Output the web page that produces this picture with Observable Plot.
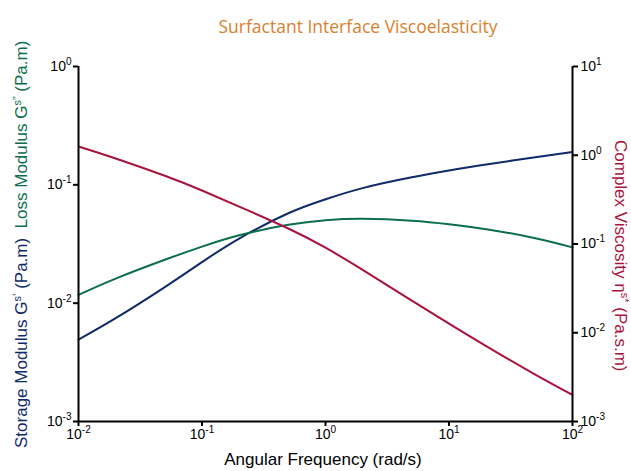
<!DOCTYPE html>
<html>
<head>
<meta charset="utf-8">
<script src="https://cdn.jsdelivr.net/npm/d3@7"></script>
<script src="https://cdn.jsdelivr.net/npm/@observablehq/plot@0.6"></script>
<style>
  html, body { margin: 0; padding: 0; background: #ffffff; }
  #chart { width: 631px; height: 471px; }
</style>
</head>
<body>
<div id="chart"></div>
<script>
// ---- data ----
const frequency = [0.01, 0.02, 0.05, 0.1, 0.2, 0.5, 1, 2, 5, 10, 20, 50, 100];
const storageModulus = [0.00492, 0.00746, 0.01368, 0.02223, 0.03516, 0.0575, 0.0755, 0.0938, 0.1157, 0.1319, 0.1484, 0.171, 0.1892];
const lossModulus = [0.01175, 0.01614, 0.02328, 0.03006, 0.0375, 0.0459, 0.0502, 0.0516, 0.0498, 0.0465, 0.0422, 0.0354, 0.0296];
const complexViscosity = [1.256, 0.92, 0.587, 0.401, 0.264, 0.1496, 0.0908, 0.0511, 0.023, 0.01268, 0.00708, 0.00337, 0.00199];

const xTickExps = [-2, -1, 0, 1, 2];
const leftTickExps = [-3, -2, -1, 0];
const rightTickExps = [-3, -2, -1, 0, 1];

const titleText = "Surfactant Interface Viscoelasticity";
const xLabel = "Angular Frequency (rad/s)";

// ---- colours ----
const BLUE = "#0f2a68";
const GREEN = "#0b6e4c";
const RED = "#a8123c";
const ORANGE = "#d9812f";

// right axis (1e-3 .. 1e1) mapped onto left scale (1e-3 .. 1e0)
const toLeft = v => Math.pow(10, -3 + (Math.log10(v) + 3) * 0.75);

const gs = frequency.map((f, i) => ({f, v: storageModulus[i]}));
const gl = frequency.map((f, i) => ({f, v: lossModulus[i]}));
const eta = frequency.map((f, i) => ({f, v: toLeft(complexViscosity[i])}));

const xTicks = xTickExps.map(e => Math.pow(10, e));
const leftTicks = leftTickExps.map(e => Math.pow(10, e));
const rightTicks = rightTickExps.map(e => ({y: toLeft(Math.pow(10, e)), label: "10^" + e}));
const expFormat = d => "10^" + Math.round(Math.log10(d));

const svg = Plot.plot({
  width: 631,
  height: 471,
  marginTop: 66,
  marginBottom: 50,
  marginLeft: 78,
  marginRight: 59,
  style: {fontFamily: "'Liberation Sans', Arial, sans-serif", fontSize: "14px", color: "#000", background: "#fff"},
  x: {type: "log", domain: [0.01, 100], label: null},
  y: {type: "log", domain: [0.001, 1], label: null},
  marks: [
    Plot.line(gs, {x: "f", y: "v", stroke: BLUE, strokeWidth: 2, curve: "natural"}),
    Plot.line(gl, {x: "f", y: "v", stroke: GREEN, strokeWidth: 2, curve: "natural"}),
    Plot.line(eta, {x: "f", y: "v", stroke: RED, strokeWidth: 2, curve: "natural"}),
    Plot.axisX({ticks: xTicks, tickFormat: expFormat, tickSize: 5, tickPadding: 3, strokeWidth: 2, label: null}),
    Plot.axisY({anchor: "left", ticks: leftTicks, tickFormat: expFormat, tickSize: 5, tickPadding: 2, strokeWidth: 2, label: null}),
    Plot.axisY({anchor: "right", ticks: rightTicks.map(d => d.y), text: null, tickSize: 5, strokeWidth: 2, label: null}),
    Plot.text(rightTicks, {x: 100, y: "y", text: "label", textAnchor: "start", dx: 8, fill: "#000", fontSize: 14}),
    Plot.ruleX([0.01], {stroke: "#000", strokeWidth: 2}),
    Plot.ruleX([100], {stroke: "#000", strokeWidth: 2}),
    Plot.ruleY([0.001], {stroke: "#000", strokeWidth: 2})
  ]
});

const NS = "http://www.w3.org/2000/svg";

// superscript exponents on tick labels
svg.querySelectorAll("text").forEach(t => {
  const m = t.textContent.match(/^10\^(-?\d+)$/);
  if (m) {
    t.textContent = "10";
    const s = document.createElementNS(NS, "tspan");
    s.setAttribute("dy", "-6");
    s.setAttribute("font-size", "10");
    s.textContent = m[1];
    t.appendChild(s);
  }
});

function makeText(attrs, parts) {
  const t = document.createElementNS(NS, "text");
  for (const k in attrs) t.setAttribute(k, attrs[k]);
  let raised = false;
  for (const p of parts) {
    const s = document.createElementNS(NS, "tspan");
    if (p.fill) s.setAttribute("fill", p.fill);
    if (p.sup && !raised) { s.setAttribute("dy", "-6"); s.setAttribute("font-size", "11"); raised = true; }
    else if (!p.sup && raised) { s.setAttribute("dy", "6"); raised = false; }
    s.textContent = p.text;
    t.appendChild(s);
  }
  svg.appendChild(t);
  return t;
}

// title
makeText({x: 358, y: 33, "text-anchor": "middle", "font-size": "17.5", "font-family": "'Open Sans', 'Noto Sans', sans-serif", fill: ORANGE}, [{text: titleText}]);

// x label
makeText({x: 323, y: 465, "text-anchor": "middle", "font-size": "17", fill: "#000"}, [{text: xLabel}]);

// left label (two colours)
makeText({transform: "translate(27,448) rotate(-90)", "text-anchor": "start", "font-size": "17"}, [
  {text: "Storage Modulus G", fill: BLUE},
  {text: "s\u2019", fill: BLUE, sup: true},
  {text: " (Pa.m)  ", fill: BLUE},
  {text: "Loss Modulus G", fill: GREEN},
  {text: "s\u201D", fill: GREEN, sup: true},
  {text: " (Pa.m)", fill: GREEN}
]);

// right label
makeText({transform: "translate(615,140) rotate(90)", "text-anchor": "start", "font-size": "17"}, [
  {text: "Complex Viscosity \u03B7", fill: RED},
  {text: "s*", fill: RED, sup: true},
  {text: " (Pa.s.m)", fill: RED}
]);

document.getElementById("chart").appendChild(svg);
</script>
</body>
</html>
